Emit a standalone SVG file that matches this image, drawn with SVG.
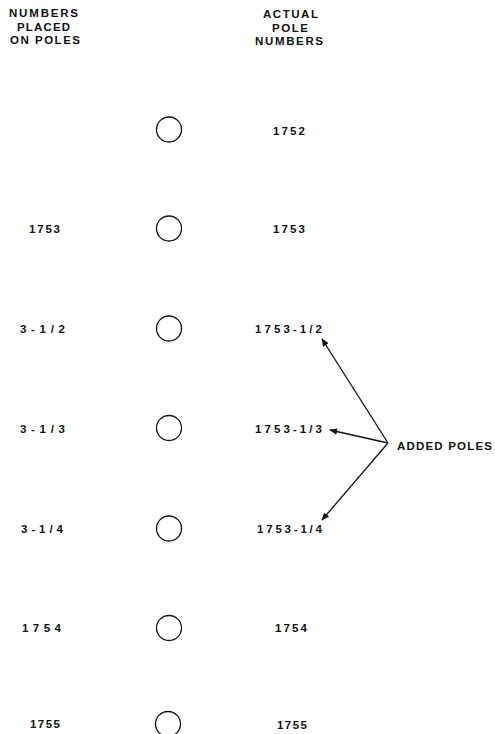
<svg xmlns="http://www.w3.org/2000/svg" width="495" height="734" viewBox="0 0 495 734">
<style>
text{font-family:"Liberation Sans",Arial,sans-serif;font-size:11.5px;font-weight:bold;fill:#111}
.pole{fill:none;stroke:#111;stroke-width:1.3}
.arr{stroke:#111;stroke-width:1.3;fill:none}
</style>
<defs>
<marker id="ah" viewBox="0 0 10 10" refX="9" refY="5" markerWidth="8" markerHeight="8" orient="auto" markerUnits="userSpaceOnUse">
<path d="M0,1 L10,5 L0,9 z" fill="#111"/>
</marker>
</defs>
<rect width="495" height="734" fill="#fff"/>
<g id="header-left">
<text x="9" y="17" textLength="69" lengthAdjust="spacing">NUMBERS</text>
<text x="17" y="31" textLength="53" lengthAdjust="spacing">PLACED</text>
<text x="10" y="44" textLength="70" lengthAdjust="spacing">ON POLES</text>
</g>
<g id="header-right">
<text x="263" y="18" textLength="55" lengthAdjust="spacing">ACTUAL</text>
<text x="272" y="32" textLength="36" lengthAdjust="spacing">POLE</text>
<text x="255" y="45" textLength="68" lengthAdjust="spacing">NUMBERS</text>
</g>
<g id="pole1">
<circle class="pole" cx="169" cy="129.5" r="12.5"/>
<text x="273" y="135" textLength="32" lengthAdjust="spacing">1752</text>
</g>
<g id="pole2">
<text x="29" y="233" textLength="31" lengthAdjust="spacing">1753</text>
<circle class="pole" cx="169" cy="228.5" r="12.5"/>
<text x="273" y="233" textLength="32" lengthAdjust="spacing">1753</text>
</g>
<g id="pole3">
<text x="20" y="333" textLength="45" lengthAdjust="spacing">3-1/2</text>
<circle class="pole" cx="169" cy="328.5" r="12.5"/>
<text x="255" y="333" textLength="67" lengthAdjust="spacing">1753-1/2</text>
</g>
<g id="pole4">
<text x="20" y="433" textLength="45" lengthAdjust="spacing">3-1/3</text>
<circle class="pole" cx="169" cy="428" r="12.5"/>
<text x="255" y="433" textLength="67" lengthAdjust="spacing">1753-1/3</text>
</g>
<g id="pole5">
<text x="21" y="533" textLength="42" lengthAdjust="spacing">3-1/4</text>
<circle class="pole" cx="169" cy="528.5" r="12.5"/>
<text x="257" y="533" textLength="65" lengthAdjust="spacing">1753-1/4</text>
</g>
<g id="pole6">
<text x="22" y="632" textLength="39" lengthAdjust="spacing">1754</text>
<circle class="pole" cx="169" cy="628" r="12.5"/>
<text x="275" y="632" textLength="32" lengthAdjust="spacing">1754</text>
</g>
<g id="pole7">
<text x="30" y="728" textLength="30" lengthAdjust="spacing">1755</text>
<circle class="pole" cx="168" cy="724" r="12.5"/>
<text x="277" y="729" textLength="30" lengthAdjust="spacing">1755</text>
</g>
<g id="added-poles">
<text x="397" y="450" textLength="95" lengthAdjust="spacing">ADDED POLES</text>
</g>
<g id="connectors">
<line class="arr" x1="388" y1="443" x2="322" y2="339" marker-end="url(#ah)"/>
<line class="arr" x1="388" y1="443" x2="330" y2="430" marker-end="url(#ah)"/>
<line class="arr" x1="388" y1="443" x2="322" y2="520" marker-end="url(#ah)"/>
</g>
</svg>
